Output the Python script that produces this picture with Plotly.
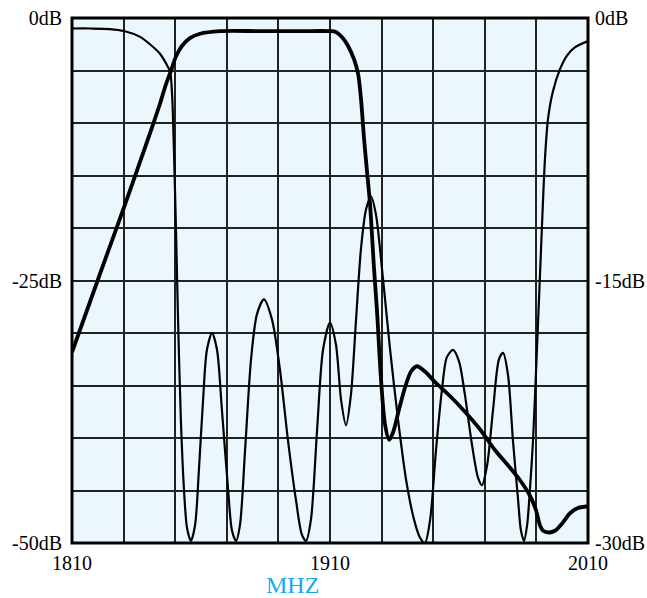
import plotly.graph_objects as go

# Thin curve (left axis, dB)
freq_a = [1810, 1817.0, 1824.7, 1830.2, 1836.4, 1840.2, 1844.1, 1846.4, 1848.0, 1848.8,
          1849.5, 1850.3, 1851.1, 1852.2, 1853.4, 1854.6, 1856.1, 1857.7, 1859.2, 1860.8,
          1862.3, 1864.3, 1866.2, 1868.1, 1870.5, 1872.0, 1873.6, 1875.1, 1877.1, 1879.4,
          1881.7, 1884.4, 1887.5, 1890.6, 1893.7, 1896.8, 1899.1, 1900.7, 1902.6, 1905.0,
          1907.3, 1910.0, 1912.3, 1914.3, 1916.2, 1918.1, 1920.1, 1922.0, 1924.0, 1925.9,
          1927.8, 1930.2, 1933.3, 1936.4, 1939.5, 1942.6, 1944.9, 1946.8, 1948.8, 1951.1,
          1953.4, 1955.3, 1957.7, 1960.0, 1962.3, 1965.0, 1967.4, 1968.9, 1970.9, 1973.2,
          1975.5, 1977.1, 1979.0, 1980.9, 1982.9, 1984.0, 1985.2, 1986.4, 1987.5, 1988.7,
          1990.2, 1991.8, 1993.3, 1994.5, 1996.4, 1999.1, 2001.8, 2004.9, 2010]
db_a = [-1.0, -1.0, -1.05, -1.24, -1.8, -2.5, -3.4, -4.3, -5.1, -7.3,
        -12.5, -20.1, -28.7, -38.3, -44.9, -48.6, -49.8, -48.3, -43.0, -36.4,
        -31.6, -30.0, -31.6, -37.3, -44.9, -48.8, -49.8, -48.3, -41.1, -32.5,
        -28.2, -26.8, -28.7, -33.5, -40.2, -45.9, -49.2, -49.8, -47.8, -39.2,
        -31.6, -29.0, -31.1, -36.4, -38.8, -35.9, -28.7, -22.0, -18.2, -17.0,
        -18.7, -24.0, -31.6, -38.3, -44.0, -47.8, -49.5, -50.0, -47.8, -41.1,
        -35.4, -32.3, -31.6, -32.7, -35.9, -40.6, -43.8, -44.5, -42.6, -37.3,
        -32.5, -31.9, -34.0, -40.2, -45.9, -48.8, -49.8, -48.3, -44.9, -40.2,
        -31.6, -22.0, -13.5, -9.6, -7.0, -4.9, -3.6, -2.8, -2.2]

# Thick curve (right axis, dB)
freq_b = [1810, 1820.9, 1830.2, 1840.2, 1844.1, 1846.4, 1848.4, 1850.3, 1852.6, 1855.7,
          1859.6, 1867.4, 1882.9, 1898.4, 1910.0, 1912.3, 1914.7, 1917.0, 1919.3, 1920.9,
          1922.0, 1923.2, 1924.3, 1925.5, 1927.1, 1928.2, 1929.8, 1931.3, 1932.9, 1934.4,
          1936.7, 1939.1, 1941.4, 1943.7, 1946.8, 1950.7, 1956.5, 1962.3, 1968.1, 1974.0,
          1979.8, 1983.6, 1987.5, 1989.8, 1991.4, 1992.6, 1994.9, 1997.2, 1999.9, 2003.0,
          2006.1, 2010]
db_b = [-19.1, -14.6, -10.8, -6.6, -4.9, -3.8, -3.0, -2.2, -1.6, -1.15,
        -0.9, -0.75, -0.75, -0.75, -0.75, -0.8, -1.1, -1.6, -2.35, -3.2,
        -4.6, -6.9, -8.7, -10.6, -14.4, -16.7, -20.7, -23.2, -24.1, -23.7,
        -22.4, -21.1, -20.2, -19.9, -20.2, -20.8, -21.6, -22.5, -23.5, -24.7,
        -25.7, -26.4, -27.3, -28.1, -29.0, -29.3, -29.4, -29.3, -28.9, -28.3,
        -28.0, -27.9]

x_ticks = list(range(1810, 2011, 20))
x_labels = ["1810", "", "", "", "", "1910", "", "", "", "", "2010"]
yl_ticks = list(range(0, -51, -5))
yl_labels = ["0dB"] + [""] * 4 + ["-25dB"] + [""] * 4 + ["-50dB"]
yr_ticks = [0, -15, -30]
yr_labels = ["0dB", "-15dB", "-30dB"]

FONT = "Liberation Serif, Times New Roman, serif"
TICKFONT = dict(family=FONT, size=20, color="black")

fig = go.Figure()
fig.add_trace(go.Scatter(x=freq_a, y=db_a, mode="lines",
                         line=dict(color="black", width=2.2, shape="spline", smoothing=0.8),
                         yaxis="y", showlegend=False))
fig.add_trace(go.Scatter(x=freq_b, y=db_b, mode="lines",
                         line=dict(color="black", width=3.8, shape="spline", smoothing=0.8),
                         yaxis="y2", showlegend=False))

fig.update_layout(
    width=647, height=598,
    margin=dict(l=72, r=59, t=18, b=55),
    paper_bgcolor="white",
    plot_bgcolor="#ECF6FD",
    font=dict(family=FONT, size=20, color="black"),
    xaxis=dict(range=[1810, 2010], tickmode="array", tickvals=x_ticks, ticktext=x_labels,
               showgrid=True, gridcolor="#222222", gridwidth=1.6, zeroline=False,
               ticks="", ticklabelstandoff=6, showline=False, automargin=False,
               tickfont=TICKFONT),
    yaxis=dict(range=[-50, 0], tickmode="array", tickvals=yl_ticks, ticktext=yl_labels,
               showgrid=True, gridcolor="#222222", gridwidth=1.6, zeroline=False,
               ticks="", ticklabelstandoff=9, showline=False, automargin=False,
               tickfont=TICKFONT),
    yaxis2=dict(range=[-30, 0], overlaying="y", side="right", tickmode="array",
                tickvals=yr_ticks, ticktext=yr_labels, showgrid=False, zeroline=False,
                ticks="", ticklabelstandoff=6, showline=False, automargin=False,
                tickfont=TICKFONT),
    shapes=[dict(type="rect", xref="paper", yref="paper", x0=0, x1=1, y0=0, y1=1,
                 line=dict(color="black", width=3), layer="above")],
    annotations=[dict(text="MHZ", xref="paper", yref="paper", x=0.428, y=-0.08,
                      xanchor="center", yanchor="middle", showarrow=False,
                      font=dict(family=FONT, size=24, color="#1AA7EC"))],
)

fig.write_html("out.html", config={"displayModeBar": False},
               post_script="document.body.style.margin='0';")
